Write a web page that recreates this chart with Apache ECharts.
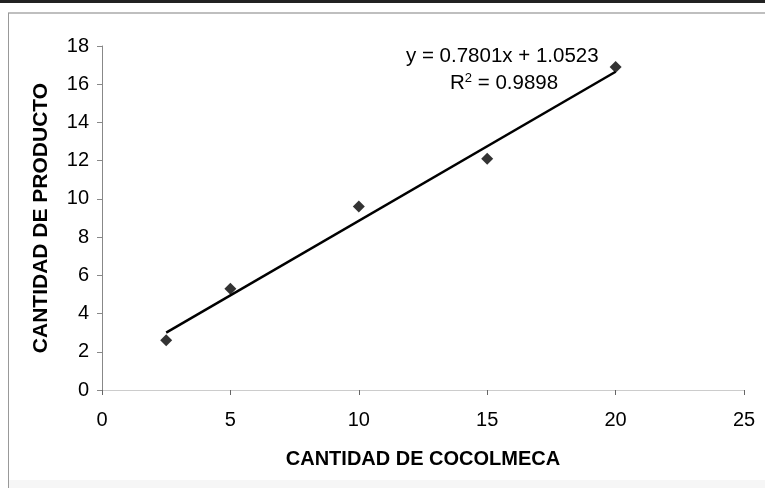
<!DOCTYPE html>
<html><head><meta charset="utf-8">
<script src="https://cdn.jsdelivr.net/npm/echarts@6/dist/echarts.min.js"></script>
<style>html,body{margin:0;padding:0;background:#fff}#c{width:765px;height:488px}</style>
</head><body><div id="c"></div>
<script>
const xValues = [2.5, 5, 10, 15, 20];
const yValues = [2.6, 5.3, 9.6, 12.1, 16.9];
const slope = 0.7801, intercept = 1.0523;
const trendX = [2.5, 20];
const xTicks = [0, 5, 10, 15, 20, 25];
const yTicks = [0, 2, 4, 6, 8, 10, 12, 14, 16, 18];
const xTitle = 'CANTIDAD DE COCOLMECA';
const yTitle = 'CANTIDAD DE PRODUCTO';
const eqText = 'y = 0.7801x + 1.0523';
const r2Value = '0.9898';

const chart = echarts.init(document.getElementById('c'));
const font = 'Liberation Sans, Arial, sans-serif';
chart.setOption({
  animation: false,
  backgroundColor: '#fff',
  grid: { left: 102, right: 21, top: 46, bottom: 98 },
  xAxis: {
    type: 'value', min: 0, max: 25, interval: 5,
    name: xTitle, nameLocation: 'middle', nameGap: 59,
    nameTextStyle: { fontFamily: font, fontSize: 20, fontWeight: 'bold', color: '#000' },
    axisLine: { show: true, lineStyle: { color: '#ccc', width: 1 } },
    axisTick: { show: true, length: 5, lineStyle: { color: '#666' } },
    axisLabel: { fontFamily: font, fontSize: 20, color: '#000', margin: 20 },
    splitLine: { show: false }
  },
  yAxis: {
    type: 'value', min: 0, max: 18, interval: 2,
    name: yTitle, nameLocation: 'middle', nameGap: 50, nameRotate: 90,
    nameTextStyle: { fontFamily: font, fontSize: 21, fontWeight: 'bold', color: '#000' },
    axisLine: { show: true, lineStyle: { color: '#888', width: 1 } },
    axisTick: { show: true, length: 5, lineStyle: { color: '#888' } },
    axisLabel: { fontFamily: font, fontSize: 20, color: '#000', margin: 13 },
    splitLine: { show: false }
  },
  series: [
    {
      type: 'line',
      data: trendX.map(x => [x, slope * x + intercept]),
      showSymbol: false, symbol: 'none',
      lineStyle: { color: '#000', width: 2.5 },
      z: 2
    },
    {
      type: 'scatter',
      data: xValues.map((x, i) => [x, yValues[i]]),
      symbol: 'diamond', symbolSize: 12,
      itemStyle: { color: '#000' },
      z: 3
    }
  ],
  graphic: [
    { type: 'rect', shape: { x: 0, y: 0, width: 765, height: 3 }, style: { fill: '#222' } },
    { type: 'line', shape: { x1: 8, y1: 13, x2: 765, y2: 13 }, style: { stroke: '#aaa', lineWidth: 1.5 } },
    { type: 'line', shape: { x1: 8.5, y1: 13, x2: 8.5, y2: 488 }, style: { stroke: '#999', lineWidth: 1 } },
    { type: 'rect', shape: { x: 9, y: 480, width: 756, height: 8 }, style: { fill: '#f6f6f6' } },
    { type: 'text', left: 406, top: 46,
      style: { text: eqText, font: '20.5px ' + font, fill: '#000' } },
    { type: 'text', left: 450, top: 72,
      style: { text: '{a|R}{s|2}{a| = ' + r2Value + '}', font: '20px ' + font, fill: '#000',
        rich: { a: { fontSize: 20.5, fontFamily: font, color: '#000', verticalAlign: 'bottom' },
                s: { fontSize: 13, fontFamily: font, color: '#000', verticalAlign: 'top', padding: [0, 0, 9, 0] } } } }
  ]
});
</script></body></html>
